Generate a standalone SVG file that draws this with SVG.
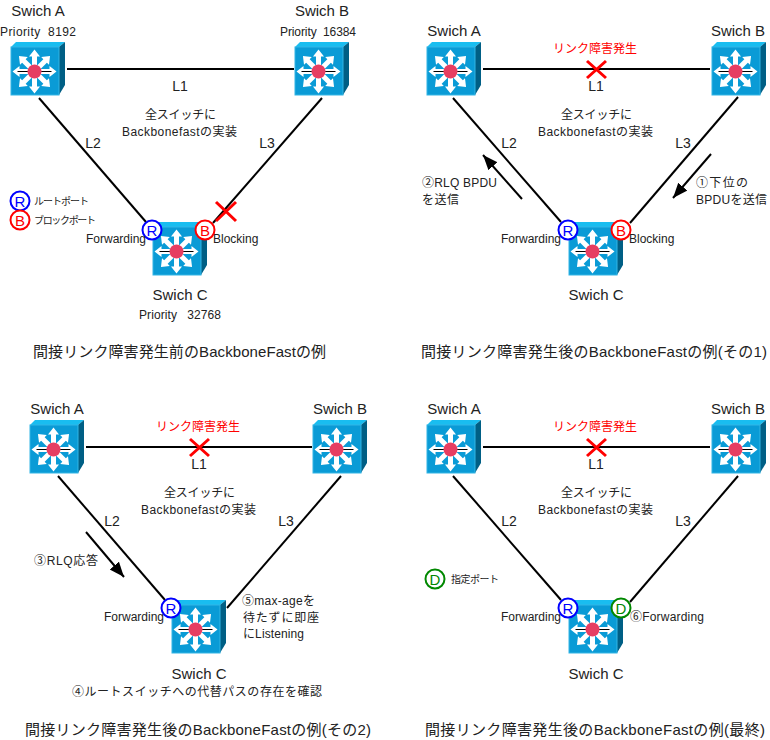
<svg xmlns="http://www.w3.org/2000/svg" xmlns:xlink="http://www.w3.org/1999/xlink" width="770" height="740" viewBox="0 0 770 740">
<style>
text{font-family:"Liberation Sans","Noto Sans CJK JP",sans-serif;fill:#222;white-space:pre}
.n{font-size:15px;text-anchor:middle}
.s{font-size:12px}
.t{font-size:15px}
.red{fill:#f00;font-size:12px;text-anchor:middle}
.l{font-size:14px;text-anchor:middle}
.tiny{font-size:10px}
.link{stroke:#000;stroke-width:2;fill:none}
.arrow{stroke:#000;stroke-width:2;fill:none;marker-end:url(#head)}
.x{stroke:#f00;stroke-width:3;fill:none}
.port{fill:#fff;stroke-width:2}
.pl{font-size:15px;text-anchor:middle}
</style>
<defs>
<marker id="head" markerUnits="userSpaceOnUse" markerWidth="18" markerHeight="14" refX="15" refY="6.5" orient="auto"><path d="M0 0.5L15 6.5L0 12.5Z" fill="#000"/></marker>
<path id="ar" d="M0 -2.5H-15V-5.5L-22 0L-15 5.5V2.5H0Z" fill="#fff"/>
<symbol id="sw" overflow="visible">
<path d="M0 0L5 -5H54L48 0Z" fill="#19bdf0"/>
<path d="M48 0L54 -5V38L48 48Z" fill="#005f85"/>
<rect x="0" y="0" width="48" height="48" fill="#0a9bd6" stroke="#33b5e5" stroke-width="1"/>
<g transform="translate(23.5,24.5)">
<use xlink:href="#ar"/><use xlink:href="#ar" transform="rotate(45)"/><use xlink:href="#ar" transform="rotate(90)"/><use xlink:href="#ar" transform="rotate(135)"/><use xlink:href="#ar" transform="rotate(180)"/><use xlink:href="#ar" transform="rotate(225)"/><use xlink:href="#ar" transform="rotate(270)"/><use xlink:href="#ar" transform="rotate(315)"/>
<path d="M-17 0H17" stroke="#000" stroke-width="1"/>
<circle r="7" fill="#e63e62"/>
</g>
</symbol>
<g id="pR"><circle r="9.5" class="port" stroke="#00f"/><text y="5.5" class="pl" style="fill:#00f">R</text></g>
<g id="pB"><circle r="9.5" class="port" stroke="#f00"/><text y="5.5" class="pl" style="fill:#f00">B</text></g>
<g id="pD"><circle r="9.5" class="port" stroke="#080"/><text y="5.5" class="pl" style="fill:#080">D</text></g>
</defs>
<rect width="770" height="740" fill="#fff"/>

<g id="connectors">
<path class="link" d="M67 69H294"/>
<path class="link" d="M39 98L146 222"/>
<path class="link" d="M322 98L213 223"/>
<path class="x" d="M216 202L236 221M236 202L216 221"/>
<path class="link" d="M483 69H710"/>
<path class="x" d="M587 61L606 78M606 61L587 78"/>
<path class="link" d="M453 98L561 222"/>
<path class="link" d="M738 97L630 223"/>
<path class="arrow" d="M522 199L483 155"/>
<path class="arrow" d="M711 154L673 198"/>
<path class="link" d="M86 447H312"/>
<path class="x" d="M190 439L209 456M209 439L190 456"/>
<path class="link" d="M58 476L165 600"/>
<path class="link" d="M341 476L227 608"/>
<path class="arrow" d="M86 532L124 577"/>
<path class="link" d="M483 447H710"/>
<path class="x" d="M587 439L606 456M606 439L587 456"/>
<path class="link" d="M453 476L561 600"/>
<path class="link" d="M738 476L630 602"/>
</g>

<g id="panel1-switch-a"><use xlink:href="#sw" x="11" y="47"/><text class="n" x="38" y="16">Swich A</text><text class="s" x="0" y="36" textLength="76">Priority  8192</text></g>
<g id="panel1-switch-b"><use xlink:href="#sw" x="295" y="47"/><text class="n" x="322" y="16">Swich B</text><text class="s" x="280" y="36" textLength="76">Priority  16384</text></g>
<g id="panel1-switch-c"><use xlink:href="#sw" x="153" y="227"/><text class="n" x="180" y="300">Swich C</text><text class="s" x="139" y="319" textLength="82">Priority   32768</text>
<use xlink:href="#pR" x="152" y="230"/><use xlink:href="#pB" x="205" y="230"/>
<text class="s" x="86" y="243">Forwarding</text><text class="s" x="213" y="243">Blocking</text></g>
<g id="panel1-labels">
<text class="l" x="180" y="91">L1</text><text class="l" x="93" y="148">L2</text><text class="l" x="267" y="148">L3</text>
<text class="s" x="145" y="119" textLength="71">全スイッチに</text><text class="s" x="122" y="136" textLength="115">Backbonefastの実装</text>
<use xlink:href="#pR" x="20" y="201"/><use xlink:href="#pB" x="20" y="220"/>
<text x="34" y="205" class="tiny" textLength="55">ルートポート</text><text x="34" y="224" class="tiny" textLength="62">ブロックポート</text>
<text class="t" x="33" y="357" textLength="293">間接リンク障害発生前のBackboneFastの例</text>
</g>

<g id="panel2-switch-a"><use xlink:href="#sw" x="427" y="47"/><text class="n" x="454" y="36">Swich A</text></g>
<g id="panel2-switch-b"><use xlink:href="#sw" x="712" y="47"/><text class="n" x="738" y="36">Swich B</text></g>
<g id="panel2-switch-c"><use xlink:href="#sw" x="569" y="227"/><text class="n" x="596" y="300">Swich C</text>
<use xlink:href="#pR" x="568" y="230"/><use xlink:href="#pB" x="621" y="230"/>
<text class="s" x="501" y="243">Forwarding</text><text class="s" x="629" y="243">Blocking</text></g>
<g id="panel2-labels">
<text class="red" x="595" y="53">リンク障害発生</text>
<text class="l" x="596" y="91">L1</text><text class="l" x="509" y="148">L2</text><text class="l" x="683" y="148">L3</text>
<text class="s" x="561" y="119" textLength="71">全スイッチに</text><text class="s" x="538" y="136" textLength="115">Backbonefastの実装</text>
<text class="s" x="422" y="187" textLength="75">②RLQ BPDU</text><text class="s" x="422" y="204" textLength="37">を送信</text>
<text class="s" x="696" y="187" textLength="52">①下位の</text><text class="s" x="696" y="204" textLength="71">BPDUを送信</text>
<text class="t" x="421" y="357" textLength="346">間接リンク障害発生後のBackboneFastの例(その1)</text>
</g>

<g id="panel3-switch-a"><use xlink:href="#sw" x="30" y="425"/><text class="n" x="57" y="414">Swich A</text></g>
<g id="panel3-switch-b"><use xlink:href="#sw" x="313" y="425"/><text class="n" x="340" y="414">Swich B</text></g>
<g id="panel3-switch-c"><use xlink:href="#sw" x="172" y="605"/><text class="n" x="199" y="679">Swich C</text>
<use xlink:href="#pR" x="171" y="608"/>
<text class="s" x="104" y="621">Forwarding</text></g>
<g id="panel3-labels">
<text class="red" x="198" y="431">リンク障害発生</text>
<text class="l" x="199" y="469">L1</text><text class="l" x="112" y="526">L2</text><text class="l" x="286" y="526">L3</text>
<text class="s" x="164" y="497" textLength="71">全スイッチに</text><text class="s" x="141" y="514" textLength="115">Backbonefastの実装</text>
<text class="s" x="34" y="565" textLength="64">③RLQ応答</text>
<text class="s" x="242" y="605" textLength="73">⑤max-ageを</text><text class="s" x="243" y="622" textLength="76">待たずに即座</text><text class="s" x="243" y="638" textLength="61">にListening</text>
<text class="s" x="72" y="696" textLength="250">④ルートスイッチへの代替パスの存在を確認</text>
<text class="t" x="25" y="735" textLength="346">間接リンク障害発生後のBackboneFastの例(その2)</text>
</g>

<g id="panel4-switch-a"><use xlink:href="#sw" x="427" y="425"/><text class="n" x="454" y="414">Swich A</text></g>
<g id="panel4-switch-b"><use xlink:href="#sw" x="712" y="425"/><text class="n" x="738" y="414">Swich B</text></g>
<g id="panel4-switch-c"><use xlink:href="#sw" x="569" y="605"/><text class="n" x="596" y="679">Swich C</text>
<use xlink:href="#pR" x="568" y="608"/><use xlink:href="#pD" x="621" y="608"/>
<text class="s" x="501" y="621">Forwarding</text><text class="s" x="630" y="621" textLength="74">⑥Forwarding</text></g>
<g id="panel4-labels">
<text class="red" x="595" y="431">リンク障害発生</text>
<text class="l" x="596" y="469">L1</text><text class="l" x="509" y="526">L2</text><text class="l" x="683" y="526">L3</text>
<text class="s" x="561" y="497" textLength="71">全スイッチに</text><text class="s" x="538" y="514" textLength="115">Backbonefastの実装</text>
<use xlink:href="#pD" x="435" y="579"/><text x="451" y="583" class="tiny" textLength="48">指定ポート</text>
<text class="t" x="425" y="735" textLength="340">間接リンク障害発生後のBackboneFastの例(最終)</text>
</g>
</svg>
